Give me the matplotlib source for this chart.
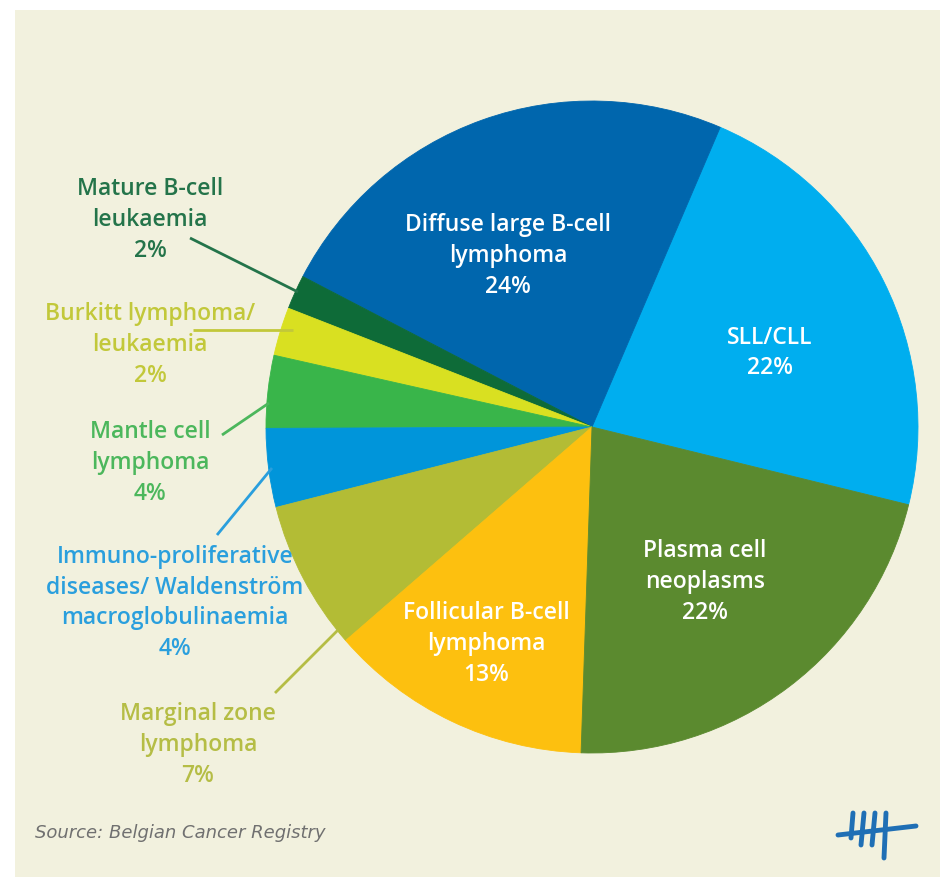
import matplotlib.pyplot as plt
from matplotlib.patches import Rectangle

# slices, counterclockwise from the SLL/CLL edge
labels = ['SLL/CLL', 'Diffuse large B-cell lymphoma', 'Mature B-cell leukaemia',
          'Burkitt lymphoma/leukaemia', 'Mantle cell lymphoma',
          'Immuno-proliferative diseases', 'Marginal zone lymphoma',
          'Follicular B-cell lymphoma', 'Plasma cell neoplasms']
shares = [22.4, 23.8, 1.7, 2.4, 3.6, 3.9, 7.4, 13.1, 21.7]
colors = ['#00AEEF', '#0066AD', '#0E6B38', '#D9E021', '#39B54A',
          '#0095DA', '#B3BC35', '#FDC00F', '#5B8A2F']

inner_texts = ['SLL/CLL\n22%', 'Diffuse large B-cell\nlymphoma\n24%',
               'Plasma cell\nneoplasms\n22%', 'Follicular B-cell\nlymphoma\n13%']
outer_texts = ['Mature B-cell\nleukaemia\n2%', 'Burkitt lymphoma/\nleukaemia\n2%',
               'Mantle cell\nlymphoma\n4%',
               'Immuno-proliferative\ndiseases/ Waldenstr\u00f6m\nmacroglobulinaemia\n4%',
               'Marginal zone\nlymphoma\n7%']
outer_colors = ['#24744A', '#C2C83A', '#4CB75C', '#2A9FDD', '#B5BD45']

W, H = 943, 877
BG = '#F2F1DE'

fig = plt.figure(figsize=(W / 100, H / 100), dpi=100)
fig.patch.set_facecolor('white')
ax = fig.add_axes([0, 0, 1, 1])


def py(y):
    # pixel row -> data y
    return H - y


ax.add_patch(Rectangle((15, 0), W - 18, H - 10, facecolor=BG, edgecolor='none', zorder=0))

wedges, _ = ax.pie(shares, colors=colors, startangle=-13.8, counterclock=True,
                   center=(592, py(427)), radius=326)
for w in wedges:
    w.set_edgecolor(w.get_facecolor())
    w.set_linewidth(0.6)

font = ['Open Sans', 'DejaVu Sans']
fs = 16.5

# labels inside the pie
inner_pos = [(770, 353), (508, 256), (705, 582), (486, 644)]
for txt, (x, y) in zip(inner_texts, inner_pos):
    ax.text(x, py(y), txt, color='white', fontsize=fs, fontweight='semibold',
            family=font, ha='center', va='center', linespacing=1.38)

# labels outside with leader lines
outer_pos = [(150, 220), (150, 345), (150, 463), (175, 603), (198, 745)]
for txt, c, (x, y) in zip(outer_texts, outer_colors, outer_pos):
    ax.text(x, py(y), txt, color=c, fontsize=fs, fontweight='semibold',
            family=font, ha='center', va='center', linespacing=1.38)

leaders = [((190, 238), (298, 292)), ((193, 330), (293, 330)),
           ((222, 435), (269, 403)), ((217, 535), (272, 468)),
           ((275, 693), (338, 630))]
for ((x0, y0), (x1, y1)), c in zip(leaders, outer_colors):
    ax.plot([x0, x1], [py(y0), py(y1)], color=c, lw=2, solid_capstyle='butt')

ax.text(35, py(833), 'Source: Belgian Cancer Registry', color='#707070',
        fontsize=13, style='italic', family=['Liberation Sans Narrow', 'DejaVu Sans'],
        ha='left', va='center')

# small tally logo
logo = '#1F6FB5'
for x0, x1, y1 in [(853, 851, 838), (864, 861, 845), (875, 872, 845), (886, 884, 858)]:
    ax.plot([x0, x1], [py(813), py(y1)], color=logo, lw=3.5, solid_capstyle='round')
ax.plot([838, 916], [py(835), py(826)], color=logo, lw=3.5, solid_capstyle='round')

ax.set_xlim(0, W)
ax.set_ylim(0, H)
ax.set_aspect('equal')
ax.axis('off')

fig.savefig('out.png', dpi=100, facecolor=fig.get_facecolor())
